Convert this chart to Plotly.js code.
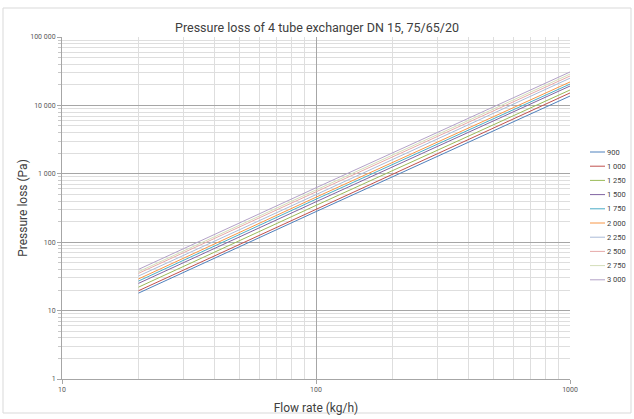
<!DOCTYPE html>
<html>
<head>
<meta charset="utf-8">
<script src="https://cdn.plot.ly/plotly-3.0.1.min.js"></script>
<style>html,body{margin:0;padding:0;background:#fff;}#chart{width:634px;height:419px;}</style>
</head>
<body>
<div id="chart"></div>
<script>
// Flow rate points (kg/h)
const flowRates = [20, 100, 1000];
// Series names (legend labels)
const seriesNames = ["900", "1 000", "1 250", "1 500", "1 750", "2 000", "2 250", "2 500", "2 750", "3 000"];
// Pressure loss values (Pa) per series
const loss900  = [18,   280, 13700];
const loss1000 = [19.5, 305, 15200];
const loss1250 = [22,   345, 16800];
const loss1500 = [25,   390, 19200];
const loss1750 = [27,   425, 20500];
const loss2000 = [29,   455, 22000];
const loss2250 = [32,   500, 25000];
const loss2500 = [35,   545, 26900];
const loss2750 = [37,   580, 28700];
const loss3000 = [40,   625, 30800];
const seriesValues = [loss900, loss1000, loss1250, loss1500, loss1750, loss2000, loss2250, loss2500, loss2750, loss3000];
const colors = ["#4F81BD", "#C0504D", "#9BBB59", "#8064A2", "#4BACC6", "#F79646", "#AABAD7", "#E6A9A8", "#D3DDB9", "#B3A2C7"];

// Axis ticks
const yTickVals = [1, 10, 100, 1000, 10000, 100000];
const yTickText = ["1", "10", "100", "1 000", "10 000", "100 000"];
const xTickVals = [10, 100, 1000];
const xTickText = ["10", "100", "1000"];

const traces = seriesNames.map((n, i) => ({
  x: flowRates, y: seriesValues[i], name: n, type: "scatter", mode: "lines",
  line: {color: colors[i], width: 1}, showlegend: false
}));

const fnt = "'Liberation Sans Narrow', 'Roboto', Arial, sans-serif";

// custom legend (paper coordinates)
const legShapes = [], legAnn = [];
const PW = 508, PH = 342;
seriesNames.forEach((n, i) => {
  const ypx = 152 + i * 14.2; // pixel from top of figure
  const yp = (379 - ypx) / PH;
  legShapes.push({type: "line", xref: "paper", yref: "paper", x0: (590 - 62) / PW, x1: (605 - 62) / PW, y0: yp, y1: yp, line: {color: colors[i], width: 1}});
  legAnn.push({xref: "paper", yref: "paper", x: (605 - 62) / PW, y: yp, xanchor: "left", yanchor: "middle", text: n, showarrow: false, font: {family: fnt, size: 7.5, color: "#404040"}});
});

const layout = {
  width: 634, height: 419,
  margin: {l: 62, r: 64, t: 37, b: 40, autoexpand: false},
  paper_bgcolor: "#fff", plot_bgcolor: "#fff",
  title: {text: "Pressure loss of 4 tube exchanger DN 15, 75/65/20", font: {family: fnt, size: 12.5, color: "#404040"}, x: 0.5, xanchor: "center", y: 0.944, yanchor: "top"},
  showlegend: false,
  xaxis: {
    type: "log", range: [1, 3], tickvals: xTickVals, ticktext: xTickText,
    tickfont: {family: fnt, size: 7, color: "#595959"},
    showgrid: true, gridcolor: "#a6a6a6", gridwidth: 1,
    showline: true, linecolor: "#a6a6a6", ticks: "outside", ticklen: 4, tickcolor: "#a6a6a6",
    minor: {dtick: "D1", showgrid: true, gridcolor: "#dedede", ticks: ""},
    zeroline: false,
    title: {text: "Flow rate (kg/h)", font: {family: fnt, size: 12, color: "#404040"}, standoff: 10}
  },
  yaxis: {
    type: "log", range: [0, 5], tickvals: yTickVals, ticktext: yTickText,
    tickfont: {family: fnt, size: 7, color: "#595959"},
    showgrid: true, gridcolor: "#a6a6a6", gridwidth: 1,
    showline: true, linecolor: "#a6a6a6", ticks: "outside", ticklen: 4, tickcolor: "#a6a6a6",
    minor: {dtick: "D1", showgrid: true, gridcolor: "#dedede", ticks: "outside", ticklen: 3, tickcolor: "#c8c8c8"},
    zeroline: false,
    title: {text: "Pressure loss (Pa)", font: {family: fnt, size: 12, color: "#404040"}, standoff: 0}
  },
  annotations: legAnn,
  shapes: [{type: "rect", xref: "paper", yref: "paper", x0: -59/508, x1: 1 + 61/508, y0: -34/342, y1: 1 + 29/342, line: {color: "#d9d9d9", width: 1}, fillcolor: "rgba(0,0,0,0)", layer: "below"}].concat(legShapes)
};
Plotly.newPlot("chart", traces, layout, {displayModeBar: false, staticPlot: true});
</script>
</body>
</html>
